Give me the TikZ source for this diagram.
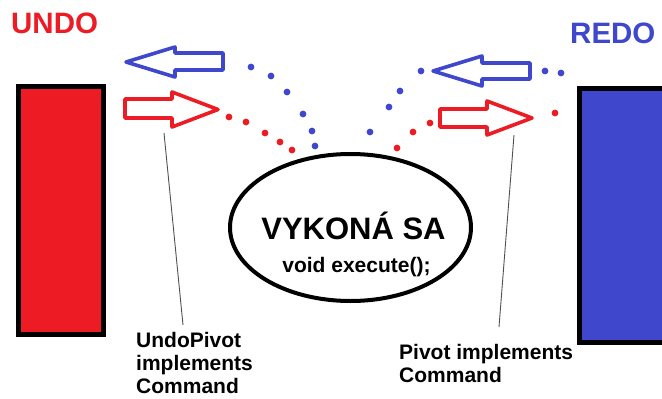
\documentclass[tikz,border=0pt]{standalone}
\usepackage{fontspec}
\setmainfont{Liberation Sans}
\usetikzlibrary{shapes.geometric}
\definecolor{pred}{HTML}{ED1C24}
\definecolor{pblue}{HTML}{3F48CC}
\definecolor{callgray}{HTML}{505050}
\tikzset{
  stackbox/.style={draw=black, line width=5pt, inner sep=0pt, outer sep=0pt},
  hollowarrow/.style={draw=#1, line width=3.6pt, line join=round},
  dotmark/.style={fill=#1},
  bigtitle/.style={text=#1, inner sep=0pt, anchor=base west, font=\fontsize{29.5}{30}\selectfont\bfseries},
  callout/.style={draw=callgray, line width=0.9pt},
  notetext/.style={inner sep=0pt, anchor=north west, align=left, font=\fontsize{21}{23}\selectfont\bfseries},
}
\begin{document}
\begin{tikzpicture}[x=1pt,y=-1pt]
\clip (0,0) rectangle (662,399);
\fill[white] (0,0) rectangle (662,399);

% titles
\node[bigtitle=pred] (undotitle) at (11,33) {UNDO};
\node[bigtitle=pblue] (redotitle) at (570,43) {REDO};

% stacks
\node[stackbox, fill=pred, minimum width=85pt, minimum height=248pt] (undostack) at (61,210.5) {};
\node[stackbox, fill=pblue, minimum width=90.5pt, minimum height=254pt] (redostack) at (624.75,215.5) {};

% hollow arrows
\draw[hollowarrow=pblue] (126,62) -- (175,47) -- (175,53) -- (223,53) -- (223,70) -- (175,70) -- (175,77) -- cycle;
\draw[hollowarrow=pred] (218,109.5) -- (172,92) -- (172,99) -- (125,99) -- (125,118) -- (172,118) -- (172,127) -- cycle;
\draw[hollowarrow=pblue] (433,71) -- (482,56) -- (482,63) -- (530,63) -- (530,79) -- (482,79) -- (482,86) -- cycle;
\draw[hollowarrow=pred] (532,118) -- (487,101) -- (487,109) -- (440,109) -- (440,127) -- (487,127) -- (487,135) -- cycle;

% dots
\foreach \p in {(251,67),(271,76),(287,92),(303,114),(312,131),(315,146),(421,71),(400,91),(389,107),(370,132),(545,71),(561,73)}
  \fill[dotmark=pblue] \p circle (3.4);
\foreach \p in {(229,117),(246,122),(265,133),(280,142),(292,150),(430,123),(413,132),(397,148),(555,113)}
  \fill[dotmark=pred] \p circle (3.4);

% central ellipse
\node[draw=black, ellipse, line width=4pt, minimum width=241pt, minimum height=147pt, inner sep=0pt] (exec) at (350.5,227.5) {};
\node[inner sep=0pt, anchor=base, font=\fontsize{31}{32}\selectfont\bfseries] (vykona) at (353.5,239) {VYKONÁ SA};
\node[inner sep=0pt, anchor=base, font=\fontsize{21}{22}\selectfont\bfseries] (execfn) at (356.5,272) {void execute();};

% notes
\node[notetext] (undonote) at (136,332) {UndoPivot\\implements\\Command};
\node[notetext] (redonote) at (399,344) {Pivot implements\\Command};

\coordinate (undotop) at (164,133);
\coordinate (undoend) at (183,325);
\coordinate (redotop) at (514,135);
\coordinate (redoend) at (499,327);
\draw[callout] (undotop) -- (undoend);
\draw[callout] (redotop) -- (redoend);
\end{tikzpicture}
\end{document}
